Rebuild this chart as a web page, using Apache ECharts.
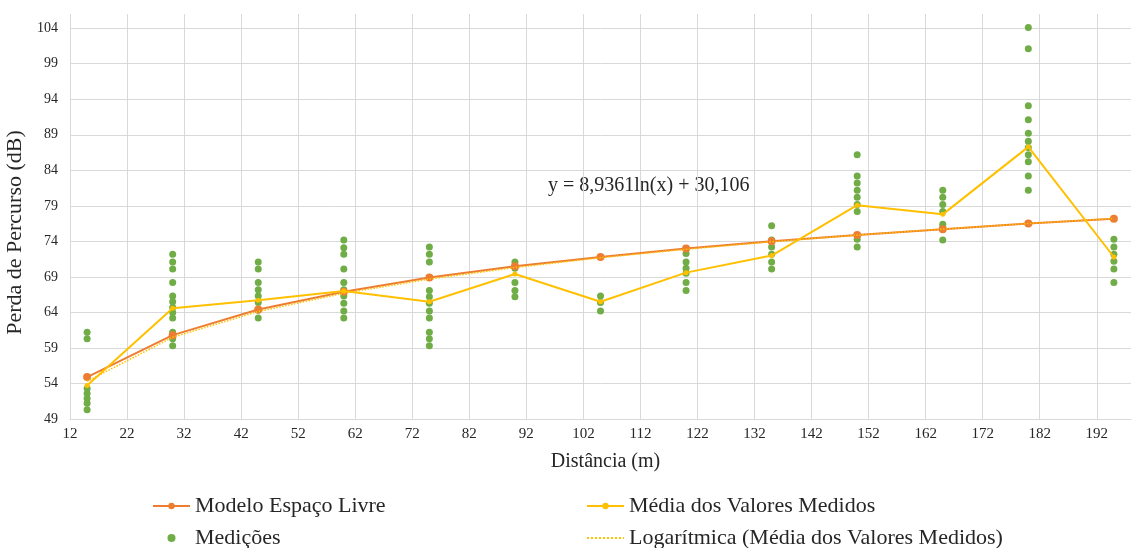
<!DOCTYPE html>
<html>
<head>
<meta charset="utf-8">
<script src="https://cdn.jsdelivr.net/npm/echarts@6/dist/echarts.min.js"></script>
<style>
  html, body { margin: 0; padding: 0; background: #fff; }
  #chart { width: 1132px; height: 548px; }
</style>
</head>
<body>
<div id="chart"></div>
<script>
// Distâncias (m) em que foram feitas as medições
const distancias = [15, 30, 45, 60, 75, 90, 105, 120, 135, 150, 165, 180, 195];

// Perda de percurso prevista pelo modelo de espaço livre (dB)
const modeloEspacoLivre = [54.9, 60.8, 64.4, 66.9, 68.9, 70.5, 71.8, 73.0, 74.0, 74.9, 75.7, 76.5, 77.2];

// Média dos valores medidos em cada distância (dB)
const mediaMedidos = [53.7, 64.6, 65.7, 67.0, 65.5, 69.4, 65.5, 69.6, 72.0, 79.1, 77.8, 87.3, 71.8];

// Medições individuais, uma lista por distância (dB)
const medicoes = [
  [61.2, 60.3, 53.3, 52.6, 51.9, 51.2, 50.3],
  [72.2, 71.1, 70.1, 68.2, 66.3, 65.5, 64.7, 64.0, 63.2, 61.2, 60.3, 59.3],
  [71.1, 70.1, 68.2, 67.2, 66.3, 65.4, 64.3, 63.2],
  [74.2, 73.1, 72.2, 70.1, 68.2, 67.2, 66.3, 65.3, 64.2, 63.2],
  [73.2, 72.2, 71.1, 67.1, 66.2, 65.3, 64.2, 63.2, 61.2, 60.3, 59.3],
  [71.1, 70.2, 68.2, 67.1, 66.2],
  [66.3, 65.4, 64.2],
  [72.3, 71.1, 70.2, 69.5, 68.2, 67.1],
  [76.2, 74.2, 73.2, 72.2, 71.1, 70.1],
  [86.2, 83.2, 82.2, 81.2, 80.2, 79.2, 78.2, 74.3, 73.2],
  [81.2, 80.2, 79.2, 78.2, 76.4, 76.0, 74.2],
  [104.1, 101.1, 93.1, 91.1, 89.2, 88.1, 87.2, 86.2, 85.2, 83.2, 81.2],
  [74.3, 73.2, 72.2, 71.2, 70.1, 68.2]
];

// Linha de tendência logarítmica da média: y = a·ln(x) + b
const tendenciaA = 8.9361;
const tendenciaB = 30.106;

// Eixos
const eixoX = { min: 12, max: 198, passo: 10 };
const eixoY = { min: 49, max: 106, passo: 5 };

const nomes = {
  modelo: 'Modelo Espaço Livre',
  media: 'Média dos Valores Medidos',
  medicoes: 'Medições',
  tendencia: 'Logarítmica (Média dos Valores Medidos)'
};

const pares = (xs, ys) => xs.map((x, i) => [x, ys[i]]);
const pontosMedicoes = [];
distancias.forEach((d, i) => medicoes[i].forEach(v => pontosMedicoes.push([d, v])));
const tendencia = distancias.map(d => [d, tendenciaA * Math.log(d) + tendenciaB]);
const fmt = v => String(v).replace('.', ',');
const equacao = `y = ${fmt(tendenciaA)}ln(x) + ${fmt(tendenciaB)}`;

const fonte = '"Liberation Serif", "Times New Roman", serif';
const corTexto = '#262626';
const corGrade = '#d9d9d9';

const chart = echarts.init(document.getElementById('chart'), null, { renderer: 'canvas' });

// Legenda em duas colunas, cada uma com dois itens empilhados
const legendaBase = {
  orient: 'vertical', top: 494, height: 70, itemGap: 8, padding: 0,
  itemWidth: 37, itemHeight: 8,
  textStyle: { fontFamily: fonte, fontSize: 22, lineHeight: 24, color: corTexto }
};

chart.setOption({
  backgroundColor: '#fff',
  animation: false,
  textStyle: { fontFamily: fonte, color: corTexto },
  grid: { left: 70, top: 14, right: 1, bottom: 129, containLabel: false, outerBoundsMode: 'none' },
  xAxis: {
    type: 'value',
    min: eixoX.min, max: eixoX.max, interval: eixoX.passo,
    name: 'Distância (m)',
    nameLocation: 'middle',
    nameGap: 33,
    nameTextStyle: { fontFamily: fonte, fontSize: 20, color: corTexto, padding: [0, 0, 0, 10] },
    axisLine: { show: true, lineStyle: { color: corGrade, width: 1 } },
    axisTick: { show: false },
    axisLabel: { fontFamily: fonte, fontSize: 15, color: corTexto, margin: 8, showMaxLabel: false },
    splitLine: { show: true, showMaxLine: false, lineStyle: { color: corGrade, width: 1 } }
  },
  yAxis: {
    type: 'value',
    min: eixoY.min, max: eixoY.max, interval: eixoY.passo,
    name: 'Perda de Percurso (dB)',
    nameLocation: 'middle',
    nameGap: 37,
    nameRotate: 90,
    nameTextStyle: { fontFamily: fonte, fontSize: 22, color: corTexto, padding: [0, 32, 0, 0] },
    axisLine: { show: false },
    axisTick: { show: false },
    axisLabel: { fontFamily: fonte, fontSize: 14, color: corTexto, margin: 12, showMaxLabel: false },
    splitLine: { show: true, showMaxLine: false, lineStyle: { color: corGrade, width: 1 } }
  },
  legend: [
    Object.assign({}, legendaBase, {
      left: 152,
      data: [nomes.modelo, nomes.medicoes]
    }),
    Object.assign({}, legendaBase, {
      left: 586,
      data: [nomes.media, { name: nomes.tendencia, itemStyle: { opacity: 0 } }]
    })
  ],
  graphic: [{
    type: 'text', left: 548, top: 176, silent: true,
    style: { text: equacao, font: `20px ${fonte}`, fill: corTexto }
  }],
  series: [
    {
      name: nomes.medicoes, type: 'scatter', z: 1,
      data: pontosMedicoes, symbol: 'circle', symbolSize: 7,
      itemStyle: { color: '#70AD47', opacity: 1 }
    },
    {
      name: nomes.modelo, type: 'line', z: 2,
      data: pares(distancias, modeloEspacoLivre),
      symbol: 'circle', symbolSize: 8, showSymbol: true,
      lineStyle: { color: '#ED7D31', width: 2 },
      itemStyle: { color: '#ED7D31' }
    },
    {
      name: nomes.media, type: 'line', z: 3,
      data: pares(distancias, mediaMedidos),
      symbol: 'circle', symbolSize: 5, showSymbol: true,
      lineStyle: { color: '#FFC000', width: 2 },
      itemStyle: { color: '#FFC000' }
    },
    {
      name: nomes.tendencia, type: 'line', z: 4,
      data: tendencia, symbol: 'none',
      lineStyle: { color: '#FFC000', width: 1.5, type: 'dotted' },
      itemStyle: { color: '#FFC000' }
    }
  ]
});
</script>
</body>
</html>
